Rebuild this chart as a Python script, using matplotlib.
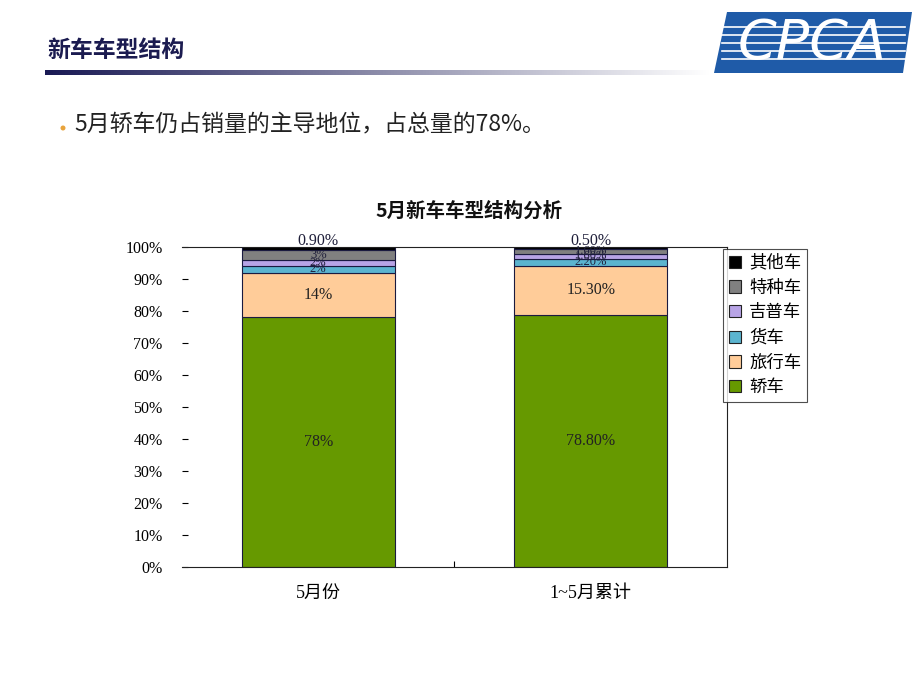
import numpy as np
import matplotlib
matplotlib.use("Agg")
import matplotlib.pyplot as plt
from matplotlib.patches import Polygon, Circle, Patch

plt.rcParams['font.family'] = ['Liberation Serif', 'Noto Sans CJK SC', 'DejaVu Sans']

# ---- data ----
categories = ["5月份", "1~5月累计"]
series_names = ["轿车", "旅行车", "货车", "吉普车", "特种车", "其他车"]
sedan   = [78.0, 78.8]
wagon   = [14.0, 15.3]
truck   = [2.0, 2.2]
jeep    = [2.0, 1.6]
special = [3.0, 1.6]
other   = [0.9, 0.5]
sedan_lbl   = ["78%", "78.80%"]
wagon_lbl   = ["14%", "15.30%"]
truck_lbl   = ["2%", "2.20%"]
jeep_lbl    = ["2%", "1.60%"]
special_lbl = ["3%", "1.60%"]
other_lbl   = ["0.90%", "0.50%"]
yticks = [0, 10, 20, 30, 40, 50, 60, 70, 80, 90, 100]
ytick_labels = [f"{v}%" for v in yticks]

series = [sedan, wagon, truck, jeep, special, other]
labels = [sedan_lbl, wagon_lbl, truck_lbl, jeep_lbl, special_lbl, other_lbl]
colors = ["#669900", "#FFCC99", "#5BB4CF", "#B8A4E6", "#808080", "#000000"]

W, H = 920, 690
fig = plt.figure(figsize=(W / 100, H / 100), dpi=100)

# ---- decorations overlay ----
deco = fig.add_axes([0, 0, 1, 1], zorder=0)
deco.axis("off")

grad = np.linspace(0, 1, 400)
c0 = np.array([0.10, 0.10, 0.33])
rgb = c0[None, :] * (1 - grad[:, None]) + np.array([1, 1, 1])[None, :] * grad[:, None]
img = np.concatenate([rgb, np.ones((400, 1))], axis=1)[None, :, :]
deco.imshow(img, extent=[45, 710, 75, 70], aspect="auto", zorder=1)
deco.set_xlim(0, W)
deco.set_ylim(H, 0)

deco.text(47, 50, "新车车型结构", fontsize=16.5, fontweight="bold", color="#1b1b50",
          family=["Noto Sans CJK SC"], va="center", ha="left")

# logo
deco.add_patch(Polygon([[727, 12], [912, 12], [903, 73], [714, 73]], closed=True,
                       facecolor="#1F5BA8", edgecolor="none", zorder=2))
for yy in [27, 35, 43, 51, 59]:
    deco.plot([722, 905], [yy, yy], color="white", lw=1.2, zorder=3)
deco.text(812, 44, "CPCA", fontsize=40, fontstyle="italic", color="white",
          family=["DejaVu Sans"], ha="center", va="center", zorder=4)

# bullet
deco.add_patch(Circle((63, 128), 2.5, facecolor="#E8A33C", edgecolor="none"))
deco.text(74, 125, "5月轿车仍占销量的主导地位，占总量的78%。", fontsize=16.5,
          color="#222222", family=["Noto Sans CJK SC"], va="center", ha="left")

# chart title
deco.text(469, 211, "5月新车车型结构分析", fontsize=14, fontweight="bold",
          color="#111111", family=["Noto Sans CJK SC"], ha="center", va="center")

# ---- chart ----
ax = fig.add_axes([182 / W, 1 - 567 / H, (727 - 182) / W, (567 - 247) / H], zorder=2)
x = np.arange(len(categories))
bottom = np.zeros(len(categories))
handles = []
for i, (vals, lbls, col, name) in enumerate(zip(series, labels, colors, series_names)):
    vals = np.array(vals)
    ax.bar(x, vals, width=0.56, bottom=bottom, color=col,
           edgecolor="#1a1a40", linewidth=0.8, label=name)
    for j in range(len(categories)):
        if i == len(series) - 1:
            ypos = bottom[j] + vals[j] + 2.0
            fs = 11.5
        elif i >= 2:
            ypos = bottom[j] + vals[j] / 2
            fs = 9
        else:
            ypos = bottom[j] + vals[j] / 2
            fs = 11.5
        ax.text(x[j], ypos, lbls[j], ha="center", va="center", fontsize=fs,
                color="#1f1f3a" if i > 1 else "#222222")
    handles.append(Patch(facecolor=col, edgecolor="#222222", linewidth=0.8, label=name))
    bottom = bottom + vals

ax.set_xlim(-0.5, 1.5)
ax.set_ylim(0, 100)
ax.set_yticks(yticks)
ax.set_yticklabels(ytick_labels, fontsize=11.5)
ax.set_xticks(x)
ax.set_xticklabels(categories, fontsize=13)
ax.set_xticks([0.5], minor=True)
ax.tick_params(axis="x", which="major", length=0, pad=13)
ax.tick_params(axis="x", which="minor", direction="in", length=4, width=0.8)
ax.tick_params(axis="y", direction="in", length=4, width=0.8, pad=14)
ax.spines["left"].set_visible(False)
for s in ["top", "right", "bottom"]:
    ax.spines[s].set_linewidth(0.8)
    ax.spines[s].set_color("#222222")

leg = fig.legend(handles=handles[::-1], loc="upper left",
                 bbox_to_anchor=(723 / W, 1 - 249 / H), fontsize=12.5,
                 frameon=True, fancybox=False, edgecolor="#222222",
                 handlelength=0.7, handleheight=0.7, handletextpad=0.45,
                 labelspacing=0.5, borderpad=0.35, borderaxespad=0)
leg.get_frame().set_linewidth(0.8)

fig.savefig("out.png", dpi=100)
